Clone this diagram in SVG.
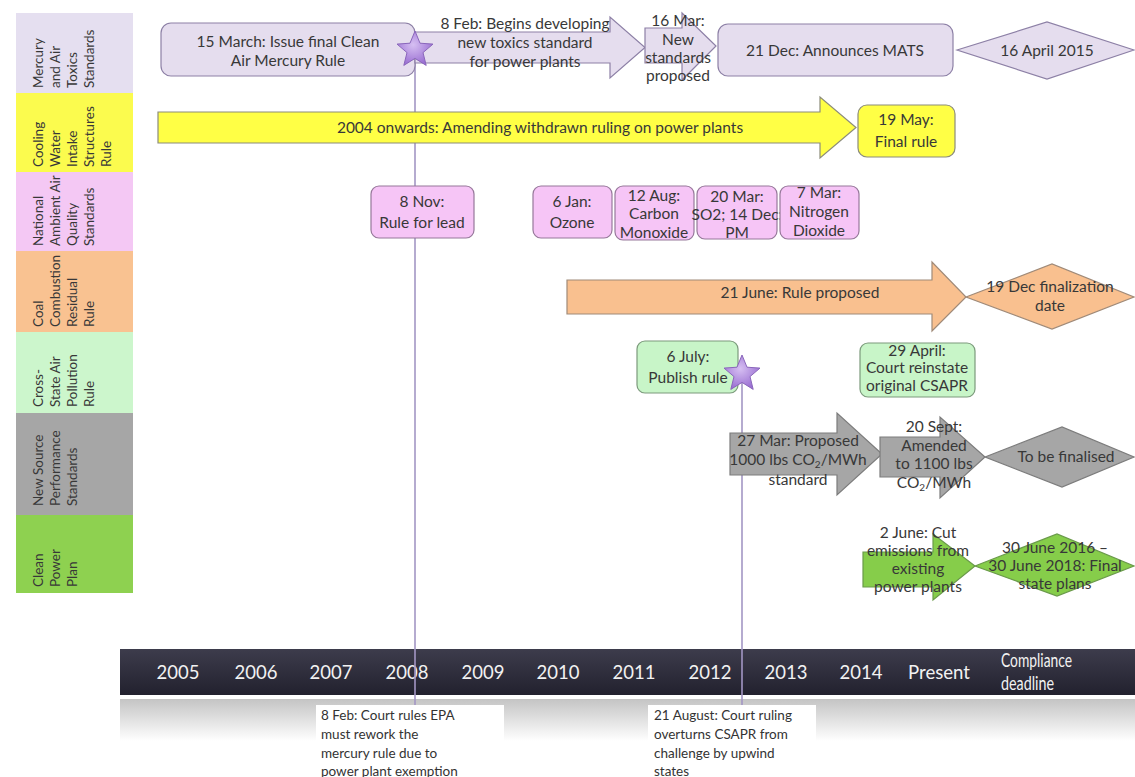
<svg xmlns="http://www.w3.org/2000/svg" width="1135" height="777" viewBox="0 0 1135 777">
<defs>
<style>
.t{font-family:Lato,"Open Sans",sans-serif;font-size:15.5px;fill:#383838;text-anchor:middle}
.lt{font-family:Lato,"Open Sans",sans-serif;font-size:13.5px;fill:#383838}
.yr{font-family:Lato,"Open Sans",sans-serif;font-size:18.5px;fill:#f2f2f2;text-anchor:middle}
.cd{font-family:Lato,"Open Sans",sans-serif;font-size:18.5px;fill:#f2f2f2}
.an{font-family:Lato,"Open Sans",sans-serif;font-size:13.5px;fill:#333}
.mer{fill:#e5ddee;stroke:#8d80a6;stroke-width:1.2}
.yel{fill:#ffff45;stroke:#8c8c7a;stroke-width:1.2}
.pnk{fill:#f6c5f6;stroke:#96789a;stroke-width:1.2}
.org{fill:#f9c08f;stroke:#a08a78;stroke-width:1.2}
.lgr{fill:#c8f5c8;stroke:#7c9a7c;stroke-width:1.2}
.gry{fill:#a6a6a6;stroke:#7c7c7c;stroke-width:1.2}
.grn{fill:#86cd4a;stroke:#6a9a4a;stroke-width:1.2}
.vl{stroke:#a396c4;stroke-width:1.6;fill:none}
</style>
<linearGradient id="bar" x1="0" y1="0" x2="0" y2="1">
<stop offset="0" stop-color="#3d3c4c"/>
<stop offset="1" stop-color="#22212e"/>
</linearGradient>
<linearGradient id="refl" x1="0" y1="0" x2="0" y2="1">
<stop offset="0" stop-color="#c4c4c4"/>
<stop offset="1" stop-color="#ffffff"/>
</linearGradient>
<radialGradient id="starg" cx="0.45" cy="0.4" r="0.6">
<stop offset="0" stop-color="#d6bff2"/>
<stop offset="1" stop-color="#9a6fd2"/>
</radialGradient>
<path id="star" d="M0,-19 L5,-6.8 L18,-5.9 L8,2.6 L11.2,15.4 L0,8.4 L-11.2,15.4 L-8,2.6 L-18,-5.9 L-5,-6.8 Z" fill="url(#starg)" stroke="#8a66bb" stroke-width="1"/>
</defs>
<rect width="1135" height="777" fill="#ffffff"/>

<!-- left category column -->
<g id="categories">
<g id="cat-mercury"><rect x="16" y="13" width="117" height="80" fill="#e5dff0"/>
<text class="lt" transform="translate(43,88) rotate(-90)">Mercury</text>
<text class="lt" transform="translate(60,88) rotate(-90)">and Air</text>
<text class="lt" transform="translate(77,88) rotate(-90)">Toxics</text>
<text class="lt" transform="translate(94,88) rotate(-90)">Standards</text></g>
<g id="cat-cooling"><rect x="16" y="93" width="117" height="79" fill="#fbfb4e"/>
<text class="lt" transform="translate(43,167) rotate(-90)">Cooling</text>
<text class="lt" transform="translate(60,167) rotate(-90)">Water</text>
<text class="lt" transform="translate(77,167) rotate(-90)">Intake</text>
<text class="lt" transform="translate(94,167) rotate(-90)">Structures</text>
<text class="lt" transform="translate(111,167) rotate(-90)">Rule</text></g>
<g id="cat-naaqs"><rect x="16" y="172" width="117" height="79" fill="#f4c8f4"/>
<text class="lt" transform="translate(43,246) rotate(-90)">National</text>
<text class="lt" transform="translate(60,246) rotate(-90)">Ambient Air</text>
<text class="lt" transform="translate(77,246) rotate(-90)">Quality</text>
<text class="lt" transform="translate(94,246) rotate(-90)">Standards</text></g>
<g id="cat-coal"><rect x="16" y="251" width="117" height="81" fill="#f9c291"/>
<text class="lt" transform="translate(43,327) rotate(-90)">Coal</text>
<text class="lt" transform="translate(60,327) rotate(-90)">Combustion</text>
<text class="lt" transform="translate(77,327) rotate(-90)">Residual</text>
<text class="lt" transform="translate(94,327) rotate(-90)">Rule</text></g>
<g id="cat-csapr"><rect x="16" y="332" width="117" height="81" fill="#ccf6cc"/>
<text class="lt" transform="translate(43,407) rotate(-90)">Cross-</text>
<text class="lt" transform="translate(60,407) rotate(-90)">State Air</text>
<text class="lt" transform="translate(77,407) rotate(-90)">Pollution</text>
<text class="lt" transform="translate(94,407) rotate(-90)">Rule</text></g>
<g id="cat-nsps"><rect x="16" y="413" width="117" height="102" fill="#a6a6a6"/>
<text class="lt" transform="translate(43,506) rotate(-90)">New Source</text>
<text class="lt" transform="translate(60,506) rotate(-90)">Performance</text>
<text class="lt" transform="translate(77,506) rotate(-90)">Standards</text></g>
<g id="cat-cpp"><rect x="16" y="515" width="117" height="78" fill="#8ed150"/>
<text class="lt" transform="translate(43,587) rotate(-90)">Clean</text>
<text class="lt" transform="translate(60,587) rotate(-90)">Power</text>
<text class="lt" transform="translate(77,587) rotate(-90)">Plan</text></g>
</g>

<!-- timeline bar -->
<g id="timeline">
<rect x="120" y="699" width="1015" height="42" fill="url(#refl)"/>
<rect x="120" y="649" width="1015" height="46" fill="url(#bar)"/>
<text class="yr" x="178" y="679">2005</text>
<text class="yr" x="256" y="679">2006</text>
<text class="yr" x="331" y="679">2007</text>
<text class="yr" x="407" y="679">2008</text>
<text class="yr" x="483" y="679">2009</text>
<text class="yr" x="558" y="679">2010</text>
<text class="yr" x="634" y="679">2011</text>
<text class="yr" x="710" y="679">2012</text>
<text class="yr" x="786" y="679">2013</text>
<text class="yr" x="861" y="679">2014</text>
<text class="yr" x="939" y="679" textLength="62" lengthAdjust="spacingAndGlyphs">Present</text>
<text class="cd" x="1001" y="667" textLength="71" lengthAdjust="spacingAndGlyphs">Compliance</text>
<text class="cd" x="1001" y="690" textLength="53" lengthAdjust="spacingAndGlyphs">deadline</text>
</g>

<!-- connectors -->
<g id="connectors">
<line class="vl" x1="415" y1="50" x2="415" y2="706"/>
<line class="vl" x1="742" y1="373" x2="742" y2="706"/>
</g>

<!-- Mercury row -->
<g id="n-mer1"><rect class="mer" x="161" y="23" width="254" height="53" rx="10"/>
<text class="t" x="288" y="47">15 March: Issue final Clean</text>
<text class="t" x="288" y="66">Air Mercury Rule</text></g>
<g id="n-mer2"><polygon class="mer" points="415,32 610,32 610,17 645,47.5 610,78 610,63 415,63"/>
<text class="t" x="525" y="29">8 Feb: Begins developing</text>
<text class="t" x="525" y="48">new toxics standard</text>
<text class="t" x="525" y="67">for power plants</text></g>
<g id="n-star1"><use href="#star" transform="translate(415,50)"/></g>
<g id="n-mer3"><polygon class="mer" points="645,28 682,28 682,13 716,46 682,80 682,63 645,63"/>
<text class="t" x="678" y="26">16 Mar:</text>
<text class="t" x="678" y="45">New</text>
<text class="t" x="678" y="63">standards</text>
<text class="t" x="678" y="81">proposed</text></g>
<g id="n-mer4"><rect class="mer" x="718" y="24" width="235" height="52" rx="10"/>
<text class="t" x="835" y="56">21 Dec: Announces MATS</text></g>
<g id="n-mer5"><polygon class="mer" points="957,50 1047,22 1134,50 1047,79"/>
<text class="t" x="1047" y="56">16 April 2015</text></g>

<!-- Cooling row -->
<g id="n-cool1"><polygon class="yel" points="158,112 820,112 820,97 856,127.5 820,158 820,143 158,143"/>
<text class="t" x="540" y="133">2004 onwards: Amending withdrawn ruling on power plants</text></g>
<g id="n-cool2"><rect class="yel" x="858" y="105" width="97" height="52" rx="9"/>
<text class="t" x="906" y="125">19 May:</text>
<text class="t" x="906" y="147">Final rule</text></g>

<!-- NAAQS row -->
<g id="n-naaqs1"><rect class="pnk" x="371" y="186" width="103" height="52" rx="8"/>
<text class="t" x="422" y="207">8 Nov:</text>
<text class="t" x="422" y="228">Rule for lead</text></g>
<g id="n-naaqs2"><rect class="pnk" x="533" y="186" width="79" height="52" rx="8"/>
<text class="t" x="572" y="207">6 Jan:</text>
<text class="t" x="572" y="228">Ozone</text></g>
<g id="n-naaqs3"><rect class="pnk" x="615" y="186" width="79" height="54" rx="8"/>
<text class="t" x="654" y="201">12 Aug:</text>
<text class="t" x="654" y="219">Carbon</text>
<text class="t" x="654" y="238">Monoxide</text></g>
<g id="n-naaqs4"><rect class="pnk" x="697" y="186" width="80" height="53" rx="8"/>
<text class="t" x="737" y="202">20 Mar:</text>
<text class="t" x="737" y="220">SO2; 14 Dec:</text>
<text class="t" x="737" y="238">PM</text></g>
<g id="n-naaqs5"><rect class="pnk" x="780" y="186" width="79" height="53" rx="8"/>
<text class="t" x="819" y="198">7 Mar:</text>
<text class="t" x="819" y="217">Nitrogen</text>
<text class="t" x="819" y="236">Dioxide</text></g>

<!-- Coal row -->
<g id="n-coal1"><polygon class="org" points="567,280 932,280 932,262 966,297 932,331 932,314 567,314"/>
<text class="t" x="800" y="298">21 June: Rule proposed</text></g>
<g id="n-coal2"><polygon class="org" points="966,297 1052,264 1134,297 1052,329"/>
<text class="t" x="1050" y="292">19 Dec finalization</text>
<text class="t" x="1050" y="311">date</text></g>

<!-- CSAPR row -->
<g id="n-csapr1"><rect class="lgr" x="637" y="341" width="101" height="52" rx="8"/>
<text class="t" x="688" y="362">6 July:</text>
<text class="t" x="688" y="383">Publish rule</text></g>
<g id="n-star2"><use href="#star" transform="translate(742,374)"/></g>
<g id="n-csapr2"><rect class="lgr" x="860" y="343" width="115" height="54" rx="8"/>
<text class="t" x="917" y="356">29 April:</text>
<text class="t" x="917" y="373">Court reinstate</text>
<text class="t" x="917" y="391">original CSAPR</text></g>

<!-- NSPS row -->
<g id="n-nsps1"><polygon class="gry" points="730,433 837,433 837,413 882,454 837,495 837,475 730,475"/>
<text class="t" x="798" y="446">27 Mar: Proposed</text>
<text class="t" x="798" y="465">1000 lbs CO<tspan font-size="10" dy="3">2</tspan><tspan dy="-3">/MWh</tspan></text>
<text class="t" x="798" y="485">standard</text></g>
<g id="n-nsps2"><polygon class="gry" points="880,437 940,437 940,417 985,457 940,498 940,477 880,477"/>
<text class="t" x="934" y="432">20 Sept:</text>
<text class="t" x="934" y="451">Amended</text>
<text class="t" x="934" y="469">to 1100 lbs</text>
<text class="t" x="934" y="488">CO<tspan font-size="10" dy="3">2</tspan><tspan dy="-3">/MWh</tspan></text></g>
<g id="n-nsps3"><polygon class="gry" points="985,457 1062,427 1134,457 1062,487"/>
<text class="t" x="1066" y="462">To be finalised</text></g>

<!-- Clean Power Plan row -->
<g id="n-cpp1"><polygon class="grn" points="863,552 933,552 933,534 975,566 933,600 933,587 863,587"/>
<text class="t" x="918" y="538">2 June: Cut</text>
<text class="t" x="918" y="556">emissions from</text>
<text class="t" x="918" y="574">existing</text>
<text class="t" x="918" y="592">power plants</text></g>
<g id="n-cpp2"><polygon class="grn" points="975,566 1057,534 1134,566 1057,596"/>
<text class="t" x="1055" y="553">30 June 2016 –</text>
<text class="t" x="1055" y="571">30 June 2018: Final</text>
<text class="t" x="1055" y="589">state plans</text></g>

<!-- annotations below timeline -->
<g id="n-note1"><rect x="316" y="705" width="188" height="72" fill="#ffffff"/>
<text class="an" x="321" y="720">8 Feb: Court rules EPA</text>
<text class="an" x="321" y="739">must rework the</text>
<text class="an" x="321" y="758">mercury rule due to</text>
<text class="an" x="321" y="776">power plant exemption</text></g>
<g id="n-note2"><rect x="648" y="705" width="168" height="72" fill="#ffffff"/>
<text class="an" x="654" y="720">21 August: Court ruling</text>
<text class="an" x="654" y="739">overturns CSAPR from</text>
<text class="an" x="654" y="758">challenge by upwind</text>
<text class="an" x="654" y="776">states</text></g>
</svg>
